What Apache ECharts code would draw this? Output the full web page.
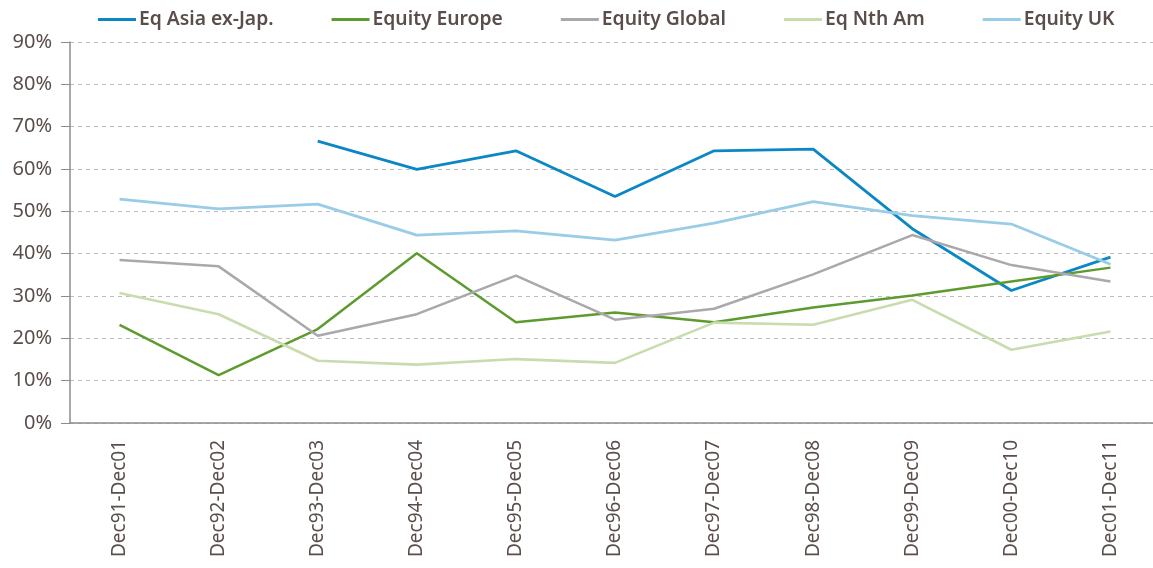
<!DOCTYPE html>
<html>
	<head>
		<meta charset="utf-8">
		<title>Equity fund hit rates</title>
		<script src="https://cdn.jsdelivr.net/npm/echarts@6/dist/echarts.min.js"></script>
		<style>
			body { margin: 0; background: #fff; overflow: hidden; }
			/* a little wider than the window: the plot area runs past the right edge */
			#main { width: 1160px; height: 568px; }
		</style>
	</head>
	<body>
		<div id="main"></div>
		<script>
			// periods on the x axis
			var periods = ['Dec91-Dec01', 'Dec92-Dec02', 'Dec93-Dec03', 'Dec94-Dec04', 'Dec95-Dec05', 'Dec96-Dec06',
				'Dec97-Dec07', 'Dec98-Dec08', 'Dec99-Dec09', 'Dec00-Dec10', 'Dec01-Dec11'];

			// values in %
			var asiaExJap = [null, null, 66.6, 59.9, 64.3, 53.5, 64.3, 64.7, 45.9, 31.3, 39.2];
			var equityEurope = [23.2, 11.3, 22.2, 40.1, 23.8, 26.1, 23.8, 27.3, 30.1, 33.4, 36.7];
			var equityGlobal = [38.5, 37.0, 20.6, 25.7, 34.8, 24.4, 27.0, 35.1, 44.4, 37.3, 33.4];
			var nthAm = [30.7, 25.7, 14.7, 13.8, 15.1, 14.2, 23.7, 23.2, 29.1, 17.3, 21.6];
			var equityUK = [52.9, 50.6, 51.7, 44.4, 45.4, 43.2, 47.2, 52.3, 49.0, 47.0, 37.5];

			var textColor = '#5a4e4b';
			var axisColor = '#8c8c8c';
			var font = 'Noto Sans';

			var myChart = echarts.init(document.getElementById('main'));

			function line(name, data, color, width) {
				return {
					name: name,
					type: 'line',
					data: data,
					symbol: 'none',
					lineStyle: { color: color, width: width },
					itemStyle: { color: color }
				};
			}

			var option = {
				animation: false,
				legend: {
					top: 5,
					left: 93,
					icon: 'rect',
					itemWidth: 38,
					itemHeight: 3,
					itemGap: 58,
					textStyle: { color: textColor, fontSize: 19.3, fontFamily: font, fontWeight: 600, padding: [0, 0, 0, -2] }
				},
				grid: { left: 70, right: 0, top: 42, bottom: 145 },
				xAxis: [
					{
						type: 'category',
						data: periods,
						boundaryGap: true,
						axisLine: { lineStyle: { color: axisColor, width: 1.5 } },
						axisTick: { length: 6, lineStyle: { color: axisColor } },
						axisLabel: { rotate: 90, margin: 17, color: textColor, fontSize: 19, fontFamily: font, interval: 0 }
					},
					{
						// second axis only to draw the tick half above the axis line
						type: 'category',
						data: periods,
						position: 'bottom',
						boundaryGap: true,
						axisLine: { show: false },
						axisTick: { inside: true, length: 7, lineStyle: { color: axisColor } },
						axisLabel: { show: false }
					}
				],
				yAxis: {
					type: 'value',
					min: 0,
					max: 90,
					interval: 10,
					axisLine: { show: true, lineStyle: { color: axisColor, width: 1.5 } },
					axisTick: { show: true, length: 9, lineStyle: { color: axisColor } },
					axisLabel: { formatter: '{value}%', margin: 18, color: textColor, fontSize: 20, fontFamily: font },
					splitLine: { lineStyle: { color: '#bdbdbd', type: [4, 4], width: 1 } }
				},
				series: [
					line('Eq Asia ex-Jap.', asiaExJap, '#0a87c4', 2.8),
					line('Equity Europe', equityEurope, '#5e9b2f', 2.5),
					line('Equity Global', equityGlobal, '#a9a9ad', 2.5),
					line('Eq Nth Am', nthAm, '#c8dcae', 2.6),
					line('Equity UK', equityUK, '#99cce6', 2.8)
				]
			};
			myChart.setOption(option);
		</script>
	</body>
</html>
